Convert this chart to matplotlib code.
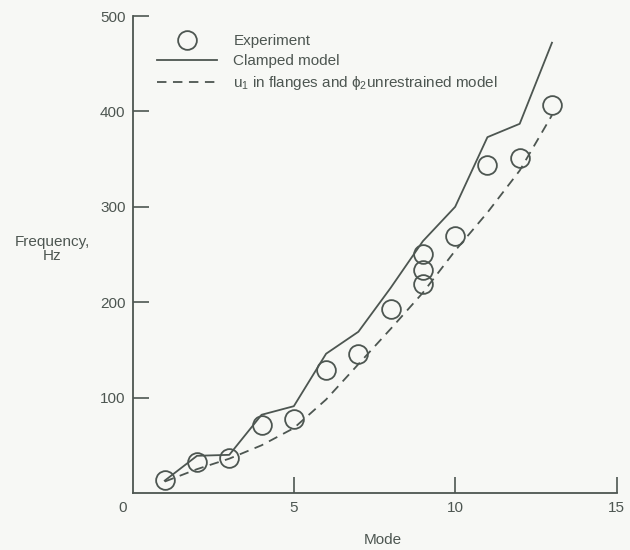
import matplotlib
matplotlib.use("Agg")
import matplotlib.pyplot as plt
from matplotlib.transforms import ScaledTranslation

plt.rcParams['font.family'] = ['Liberation Sans', 'DejaVu Sans']
plt.rcParams['mathtext.fontset'] = 'custom'
plt.rcParams['mathtext.rm'] = 'Liberation Sans'
plt.rcParams['mathtext.it'] = 'Liberation Sans'
plt.rcParams['lines.scale_dashes'] = False

# ---- data ----
exp_mode = [1, 2, 3, 4, 5, 6, 7, 8, 9, 9, 9, 10, 11, 12, 13]
exp_freq = [14, 33, 37, 71, 78, 129, 146, 193, 250, 234, 219, 269, 344, 351, 407]

model_mode = [1, 2, 3, 4, 5, 6, 7, 8, 9, 10, 11, 12, 13]
clamped_freq = [13, 39, 40, 82, 91, 146, 169, 215, 264, 300, 373, 387, 472]
unrestrained_freq = [12, 25, 36, 50, 68, 98, 135, 172, 210, 254, 294, 338, 396]

x_ticks = [0, 5, 10, 15]
y_ticks = [100, 200, 300, 400, 500]

labels = ["Experiment", "Clamped model",
          r"u$_1$ in flanges and $\phi_2$unrestrained model"]

ink = '#4d5651'
bg = '#f7f8f5'

fig = plt.figure(figsize=(6.3, 5.5), dpi=100, facecolor=bg)
ax = fig.add_axes([132.5 / 630, 57 / 550, 484 / 630, 477 / 550])
ax.set_facecolor(bg)

h_exp, = ax.plot(exp_mode, exp_freq, linestyle='none', marker='o', ms=13.5,
                 mfc='none', mec=ink, mew=1.3, zorder=3)
h_cl, = ax.plot(model_mode, clamped_freq, color=ink, lw=1.3, zorder=2)
h_un, = ax.plot(model_mode, unrestrained_freq, color=ink, lw=1.3,
                dashes=(6.8, 4.7), zorder=2)

ax.set_xlim(0, 15)
ax.set_ylim(0, 500)
ax.set_xticks(x_ticks)
ax.set_yticks(y_ticks)
for s in ('top', 'right'):
    ax.spines[s].set_visible(False)
for s in ('left', 'bottom'):
    ax.spines[s].set_color(ink)
    ax.spines[s].set_linewidth(1.3)
ax.tick_params(direction='in', length=11.5, width=1.2, color=ink,
               labelcolor=ink, labelsize=11)
ax.tick_params(axis='x', pad=6)
ax.tick_params(axis='y', pad=5)

# shift the origin "0" label slightly left
xl = ax.get_xticklabels()
xl[0].set_transform(xl[0].get_transform() +
                    ScaledTranslation(-10 / 100, 0, fig.dpi_scale_trans))
ax.xaxis.get_major_ticks()[0].tick1line.set_visible(False)

ax.set_xlabel("Mode", color=ink, fontsize=11)
ax.xaxis.set_label_coords((383 - 132.5) / 484, (493 - 540) / 477)
ax.xaxis.label.set_va('center')
ax.set_ylabel("Frequency,\nHz", color=ink, fontsize=11, rotation=0,
              ha='center', va='center', multialignment='center',
              linespacing=1.05)
ax.yaxis.set_label_coords((52 - 132.5) / 484, (493 - 249) / 477)

leg = ax.legend([h_exp, h_cl, h_un], labels, loc='upper left',
                bbox_to_anchor=(157 / 630, 1 - 34 / 550),
                bbox_transform=fig.transFigure, frameon=False,
                fontsize=11, handlelength=3.95, handletextpad=1.05,
                labelspacing=0.4, borderpad=0, borderaxespad=0,
                numpoints=1)
for t in leg.get_texts():
    t.set_color(ink)

fig.savefig("out.png", dpi=100, facecolor=bg)
